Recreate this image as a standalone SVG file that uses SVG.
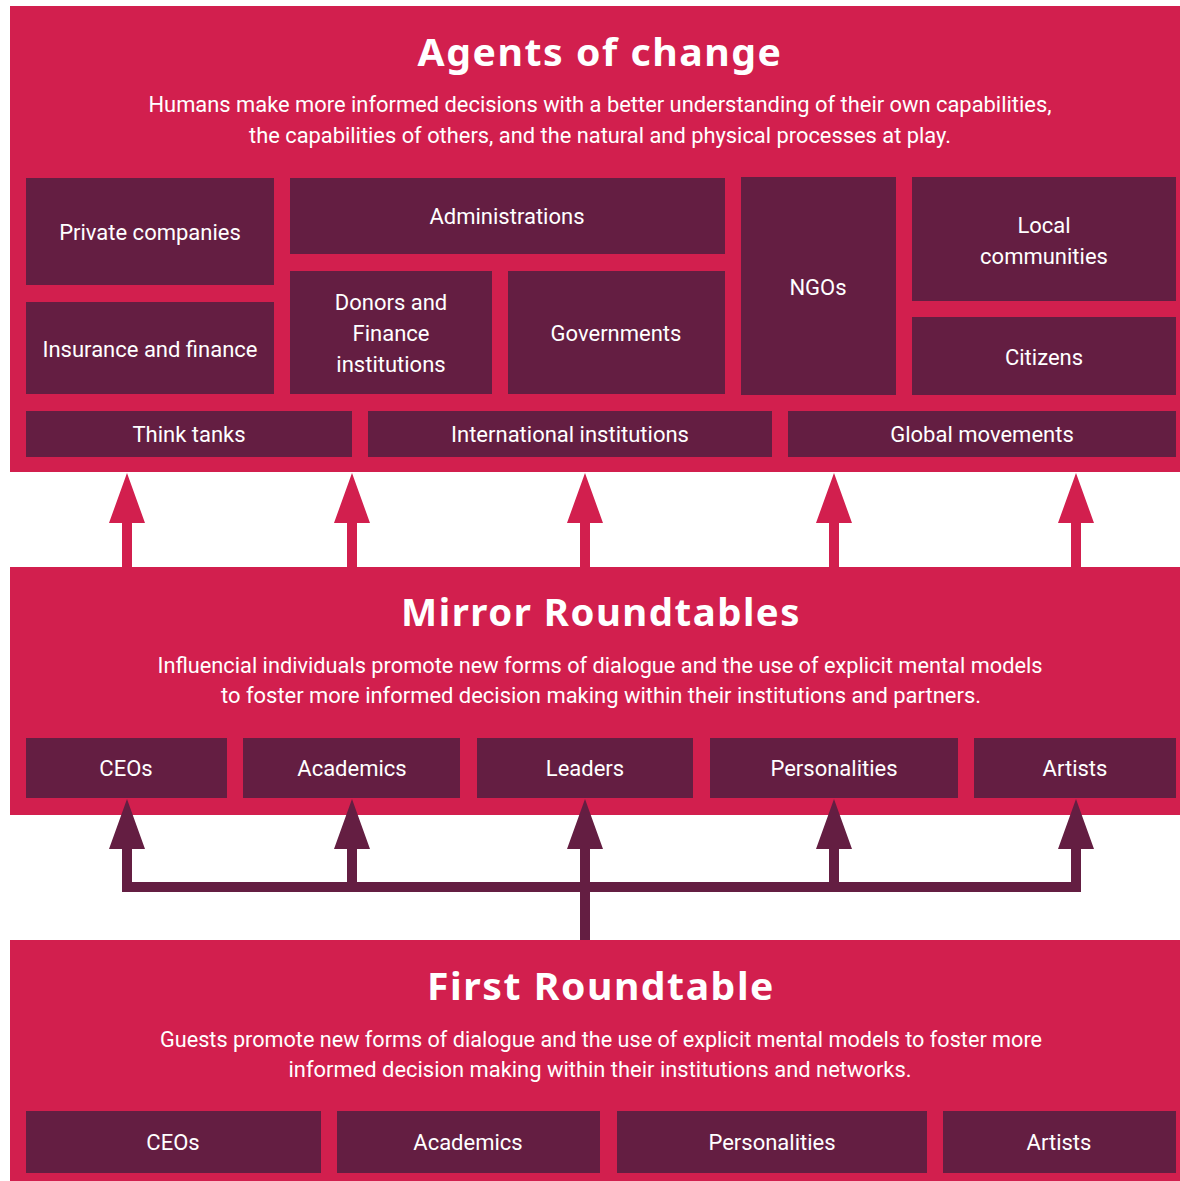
<svg xmlns="http://www.w3.org/2000/svg" width="1180" height="1181" viewBox="0 0 1180 1181">
  <style>
    .panel { fill: #D21F4E; }
    .box { fill: #641E42; }
    .title { font-family: "Noto Sans", "DejaVu Sans", sans-serif; font-weight: 700; font-size: 38px; fill: #ffffff; text-anchor: middle; letter-spacing: 1.5px; }
    .body { font-family: Roboto, "Liberation Sans", sans-serif; font-size: 22px; fill: #ffffff; text-anchor: middle; }
    .label { font-family: Roboto, "Liberation Sans", sans-serif; font-size: 22px; fill: #ffffff; text-anchor: middle; }
    .up-pink { fill: #D21F4E; }
    .up-dark { fill: #641E42; }
  </style>
  <defs>
    <!-- upward arrow, tip at origin -->
    <path id="arrow" d="M0,0 L18,50 L5,50 L5,94 L-5,94 L-5,50 L-18,50 Z"/>
    <path id="arrow-short" d="M0,0 L18,50 L5,50 L5,88 L-5,88 L-5,50 L-18,50 Z"/>
  </defs>
  <rect width="1180" height="1181" fill="#ffffff"/>

  <!-- Agents of change -->
  <g id="agents-of-change">
    <rect class="panel" x="10" y="6" width="1170" height="466"/>
    <text class="title" x="600" y="66" textLength="365" lengthAdjust="spacingAndGlyphs">Agents of change</text>
    <text class="body" x="600" y="112" textLength="903" lengthAdjust="spacingAndGlyphs">Humans make more informed decisions with a better understanding of their own capabilities,</text>
    <text class="body" x="600" y="143" textLength="702" lengthAdjust="spacingAndGlyphs">the capabilities of others, and the natural and physical processes at play.</text>
  </g>
  <g id="private-companies">
    <rect class="box" x="26" y="178" width="248" height="107"/>
    <text class="label" x="150" y="240">Private companies</text>
  </g>
  <g id="administrations">
    <rect class="box" x="290" y="178" width="435" height="76"/>
    <text class="label" x="507" y="224">Administrations</text>
  </g>
  <g id="insurance-and-finance">
    <rect class="box" x="26" y="302" width="248" height="92"/>
    <text class="label" x="150" y="357">Insurance and finance</text>
  </g>
  <g id="donors">
    <rect class="box" x="290" y="271" width="202" height="123"/>
    <text class="label" x="391" y="310">Donors and</text>
    <text class="label" x="391" y="341">Finance</text>
    <text class="label" x="391" y="372">institutions</text>
  </g>
  <g id="governments">
    <rect class="box" x="508" y="271" width="217" height="123"/>
    <text class="label" x="616" y="341">Governments</text>
  </g>
  <g id="ngos">
    <rect class="box" x="741" y="177" width="155" height="218"/>
    <text class="label" x="818" y="295">NGOs</text>
  </g>
  <g id="local-communities">
    <rect class="box" x="912" y="177" width="264" height="124"/>
    <text class="label" x="1044" y="233">Local</text>
    <text class="label" x="1044" y="264">communities</text>
  </g>
  <g id="citizens">
    <rect class="box" x="912" y="317" width="264" height="78"/>
    <text class="label" x="1044" y="365">Citizens</text>
  </g>
  <g id="think-tanks">
    <rect class="box" x="26" y="411" width="326" height="46"/>
    <text class="label" x="189" y="442">Think tanks</text>
  </g>
  <g id="international-institutions">
    <rect class="box" x="368" y="411" width="404" height="46"/>
    <text class="label" x="570" y="442">International institutions</text>
  </g>
  <g id="global-movements">
    <rect class="box" x="788" y="411" width="388" height="46"/>
    <text class="label" x="982" y="442">Global movements</text>
  </g>

  <!-- Mirror Roundtables -->
  <g id="mirror-roundtables">
    <rect class="panel" x="10" y="567" width="1170" height="248"/>
    <text class="title" x="601" y="626" textLength="400" lengthAdjust="spacingAndGlyphs">Mirror Roundtables</text>
    <text class="body" x="600" y="673" textLength="885" lengthAdjust="spacingAndGlyphs">Influencial individuals promote new forms of dialogue and the use of explicit mental models</text>
    <text class="body" x="601" y="703" textLength="760" lengthAdjust="spacingAndGlyphs">to foster more informed decision making within their institutions and partners.</text>
  </g>
  <g id="mirror-ceos">
    <rect class="box" x="26" y="738" width="201" height="60"/>
    <text class="label" x="126" y="776">CEOs</text>
  </g>
  <g id="mirror-academics">
    <rect class="box" x="243" y="738" width="217" height="60"/>
    <text class="label" x="352" y="776">Academics</text>
  </g>
  <g id="mirror-leaders">
    <rect class="box" x="477" y="738" width="216" height="60"/>
    <text class="label" x="585" y="776">Leaders</text>
  </g>
  <g id="mirror-personalities">
    <rect class="box" x="710" y="738" width="248" height="60"/>
    <text class="label" x="834" y="776">Personalities</text>
  </g>
  <g id="mirror-artists">
    <rect class="box" x="974" y="738" width="202" height="60"/>
    <text class="label" x="1075" y="776">Artists</text>
  </g>

  <!-- First Roundtable -->
  <g id="first-roundtable">
    <rect class="panel" x="10" y="940" width="1170" height="241"/>
    <text class="title" x="601" y="1000" textLength="348" lengthAdjust="spacingAndGlyphs">First Roundtable</text>
    <text class="body" x="601" y="1047" textLength="882" lengthAdjust="spacingAndGlyphs">Guests promote new forms of dialogue and the use of explicit mental models to foster more</text>
    <text class="body" x="600" y="1077" textLength="623" lengthAdjust="spacingAndGlyphs">informed decision making within their institutions and networks.</text>
  </g>
  <g id="first-ceos">
    <rect class="box" x="26" y="1111" width="295" height="62"/>
    <text class="label" x="173" y="1150">CEOs</text>
  </g>
  <g id="first-academics">
    <rect class="box" x="337" y="1111" width="263" height="62"/>
    <text class="label" x="468" y="1150">Academics</text>
  </g>
  <g id="first-personalities">
    <rect class="box" x="617" y="1111" width="310" height="62"/>
    <text class="label" x="772" y="1150">Personalities</text>
  </g>
  <g id="first-artists">
    <rect class="box" x="943" y="1111" width="233" height="62"/>
    <text class="label" x="1059" y="1150">Artists</text>
  </g>

  <!-- Connectors -->
  <g id="connectors">
    <!-- Mirror Roundtables to Agents of change -->
    <use href="#arrow" class="up-pink" x="127" y="473"/>
    <use href="#arrow" class="up-pink" x="352" y="473"/>
    <use href="#arrow" class="up-pink" x="585" y="473"/>
    <use href="#arrow" class="up-pink" x="834" y="473"/>
    <use href="#arrow" class="up-pink" x="1076" y="473"/>
    <!-- First Roundtable to Mirror Roundtables -->
    <rect class="up-dark" x="580" y="882" width="10" height="58"/>
    <rect class="up-dark" x="122" y="882" width="959" height="10"/>
    <use href="#arrow-short" class="up-dark" x="127" y="799"/>
    <use href="#arrow-short" class="up-dark" x="352" y="799"/>
    <use href="#arrow-short" class="up-dark" x="585" y="799"/>
    <use href="#arrow-short" class="up-dark" x="834" y="799"/>
    <use href="#arrow-short" class="up-dark" x="1076" y="799"/>
  </g>
</svg>
